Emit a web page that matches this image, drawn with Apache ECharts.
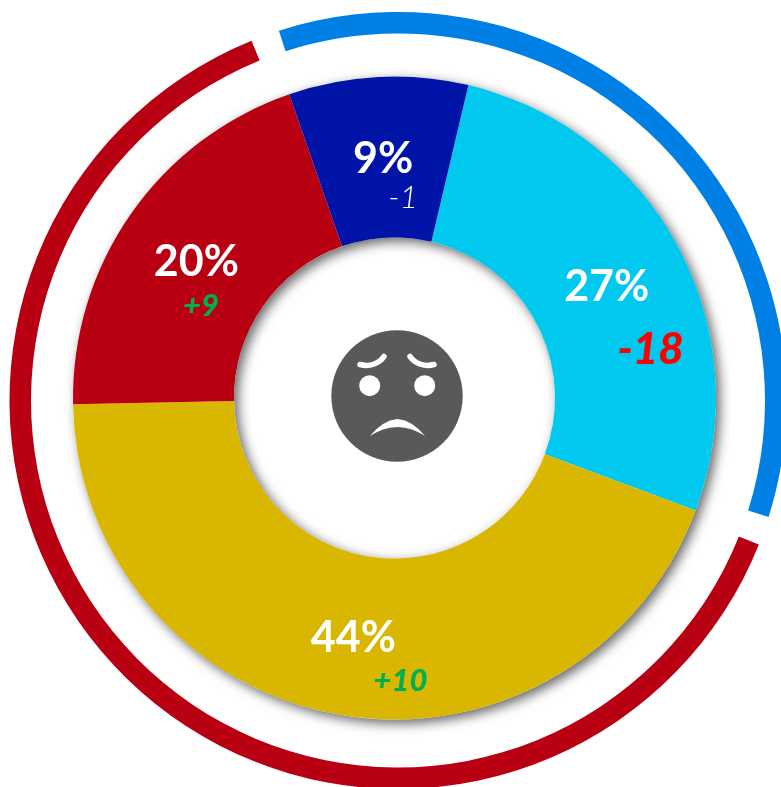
<!DOCTYPE html>
<html>
<head>
<meta charset="utf-8">
<style>
  html, body { margin: 0; padding: 0; background: #fff; }
  #chart { width: 781px; height: 787px; }
</style>
</head>
<body>
<div id="chart"></div>
<script src="https://cdn.jsdelivr.net/npm/echarts@6/dist/echarts.min.js"></script>
<script>
// data
const shares = [27, 44, 20, 9];
const deltas = ['-18', '+10', '+9', '-1'];
const sliceColors = ['#00c8ee', '#d9b700', '#b80012', '#0014a8'];
const ringValues = [36, 64];
const ringColors = ['#0080e4', '#b80012'];

// label styling per slice, same order as shares
const shareOffsets = [[-3, 4], [0, 0], [2, 4], [1, 5]];
const deltaColors = ['#ff0000', '#00b050', '#00b050', '#ffffff'];
const deltaSizes = [44, 31, 31, 32];
const deltaWeights = [900, 900, 900, 300];
const deltaOffsets = [[41, 67], [47, 42], [6.5, 48], [21, 43]];

const FONT = 'Lato, "Open Sans", sans-serif';
const CENTER = [394.5, 398];
const chart = echarts.init(document.getElementById('chart'));

const option = {
  backgroundColor: '#fff',
  animation: false,
  series: [
    // outer ring, it sits a bit off the donut centre and runs off the page on the right
    {
      type: 'pie',
      silent: true,
      center: [398, 400.5],
      radius: [367, 388.5],
      startAngle: 110,
      padAngle: 4.3,
      label: { show: false },
      labelLine: { show: false },
      data: ringValues.map((v, i) => ({ value: v, itemStyle: { color: ringColors[i] } }))
    },
    // one whole ring only for the drop shadow, so slices dont shade each other
    {
      type: 'pie',
      silent: true,
      center: CENTER,
      radius: [160.5, 321.5],
      label: { show: false },
      labelLine: { show: false },
      itemStyle: {
        color: '#fff',
        shadowBlur: 12,
        shadowOffsetX: 4,
        shadowOffsetY: 4,
        shadowColor: 'rgba(0,0,0,0.6)'
      },
      data: [{ value: 100 }]
    },
    // slices with the percent labels
    {
      type: 'pie',
      silent: true,
      center: CENTER,
      radius: [160.5, 321.5],
      startAngle: 76.7,
      labelLine: { show: false },
      data: shares.map((v, i) => ({
        value: v,
        itemStyle: { color: sliceColors[i] },
        label: {
          show: true,
          position: 'inside',
          formatter: '{c}%',
          offset: shareOffsets[i],
          color: '#fff',
          fontFamily: FONT,
          fontWeight: 'bold',
          fontSize: 43
        }
      }))
    },
    // same slices, transparent, carrying the change labels
    {
      type: 'pie',
      silent: true,
      center: CENTER,
      radius: [160.5, 321.5],
      startAngle: 76.7,
      labelLine: { show: false },
      itemStyle: { color: 'transparent' },
      data: shares.map((v, i) => ({
        value: v,
        label: {
          show: true,
          position: 'inside',
          formatter: deltas[i],
          offset: deltaOffsets[i],
          color: deltaColors[i],
          fontFamily: FONT,
          fontStyle: 'italic',
          fontWeight: deltaWeights[i],
          fontSize: deltaSizes[i]
        }
      }))
    }
  ],
  // the sad face in the hole
  graphic: [
    { type: 'circle', silent: true, shape: { cx: 397, cy: 396, r: 65.7 }, style: { fill: '#595959' } },
    { type: 'circle', silent: true, shape: { cx: 369.7, cy: 385.7, r: 10.5 }, style: { fill: '#fff' } },
    { type: 'circle', silent: true, shape: { cx: 424.7, cy: 385.7, r: 10.5 }, style: { fill: '#fff' } },
    {
      type: 'bezierCurve', silent: true,
      shape: { x1: 360, y1: 364.5, cpx1: 369, cpy1: 367, cpx2: 379, cpy2: 364, x2: 384, y2: 356.5 },
      style: { stroke: '#fff', lineWidth: 5.5, lineCap: 'round', fill: null }
    },
    {
      type: 'bezierCurve', silent: true,
      shape: { x1: 434, y1: 364.5, cpx1: 425, cpy1: 367, cpx2: 415, cpy2: 364, x2: 410, y2: 356.5 },
      style: { stroke: '#fff', lineWidth: 5.5, lineCap: 'round', fill: null }
    },
    {
      type: 'polygon', silent: true,
      shape: {
        points: [[370, 436], [376, 429.5], [383, 424], [390, 420.5], [397.5, 419], [405, 420.5], [412, 424], [419, 429.5],
          [425, 436], [419, 432.5], [412, 429.5], [405, 427.7], [397.5, 427], [390, 427.7], [383, 429.5], [376, 432.5]]
      },
      style: { fill: '#fff' }
    }
  ]
};

chart.setOption(option);
</script>
</body>
</html>
